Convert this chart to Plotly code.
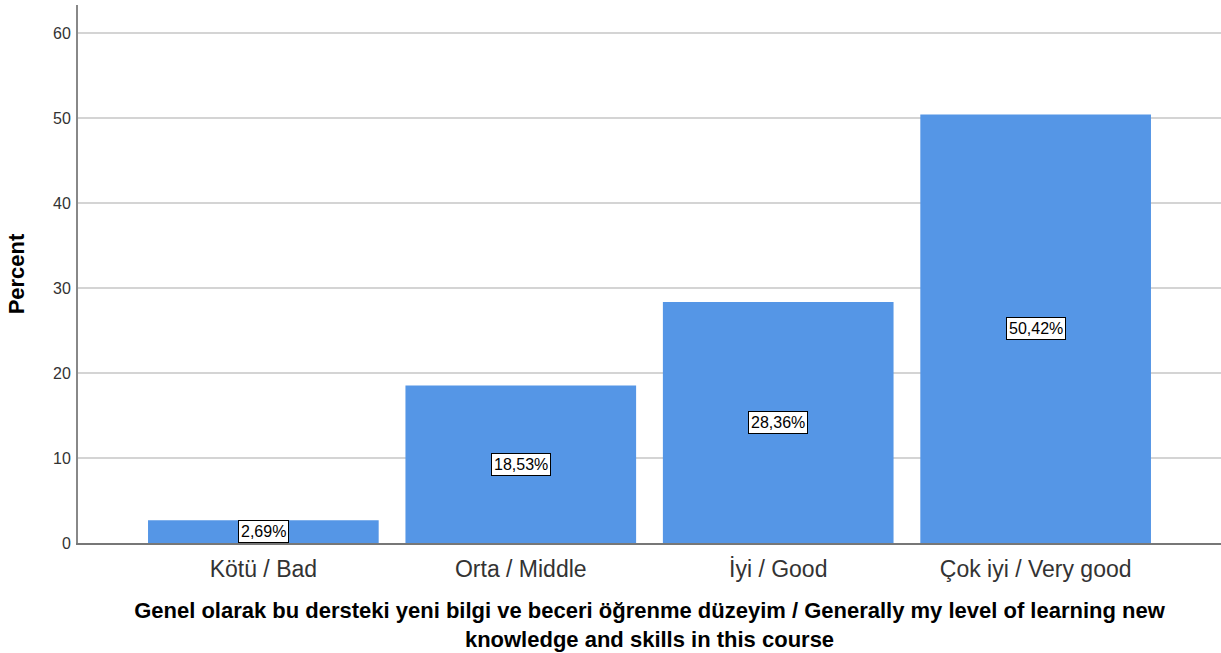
import plotly.graph_objects as go

categories = ["Kötü / Bad", "Orta / Middle", "İyi / Good", "Çok iyi / Very good"]
percents = [2.69, 18.53, 28.36, 50.42]
labels = ["2,69%", "18,53%", "28,36%", "50,42%"]
y_ticks = [0, 10, 20, 30, 40, 50, 60]

x_pos = list(range(len(categories)))

fig = go.Figure()
fig.add_trace(go.Bar(
    x=x_pos, y=percents, width=0.896,
    marker=dict(color="#5596E6", line=dict(width=0)),
    hoverinfo="skip",
))

for xi, v, t in zip(x_pos, percents, labels):
    fig.add_annotation(
        x=xi, y=v / 2, text=t, showarrow=False,
        font=dict(family="Liberation Sans, Arial", size=16, color="black"),
        bgcolor="white", bordercolor="black", borderwidth=1, borderpad=2,
    )

fig.update_layout(
    width=1221, height=653,
    margin=dict(l=78, r=0, t=5, b=110),
    plot_bgcolor="white", paper_bgcolor="white",
    showlegend=False,
    font=dict(family="Liberation Sans, Arial", color="black"),
    xaxis=dict(
        range=[-0.72, 3.72],
        tickmode="array", tickvals=x_pos, ticktext=categories,
        tickfont=dict(size=23, color="#333333"),
        ticklabelstandoff=4,
        showgrid=False, zeroline=False,
        showline=True, linecolor="#777777", linewidth=2,
        ticks="", ticklen=0,
        title=dict(
            text="<b>Genel olarak bu dersteki yeni bilgi ve beceri öğrenme düzeyim / Generally my level of learning new<br>knowledge and skills in this course</b>",
            font=dict(size=22, color="black"), standoff=22,
        ),
    ),
    yaxis=dict(
        range=[0, 63.3],
        tickmode="array", tickvals=y_ticks,
        tickfont=dict(size=16, color="#333333"),
        ticklabelstandoff=2,
        showgrid=True, gridcolor="#d4d4d4", gridwidth=2,
        zeroline=False,
        showline=True, linecolor="#888888", linewidth=2,
        ticks="", ticklen=0,
        title=dict(text="<b>Percent</b>", font=dict(size=22, color="black"), standoff=22),
    ),
)

fig.write_html(
    "out.html",
    config={"displayModeBar": False},
    post_script="document.body.style.margin='0';document.body.style.padding='0';",
)
